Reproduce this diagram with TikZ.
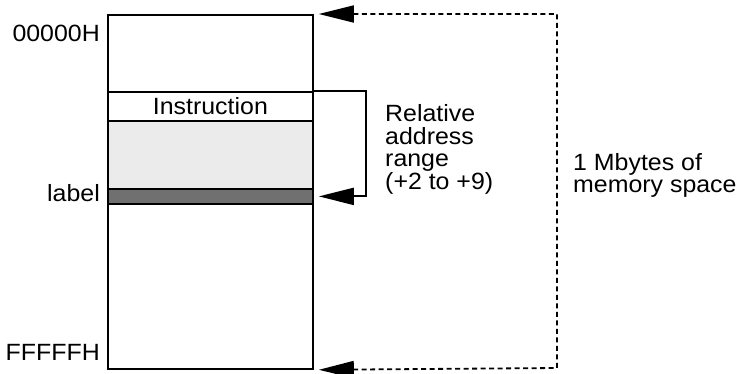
\documentclass[tikz,border=0pt]{standalone}
\usepackage{fontspec}
\setmainfont{Liberation Sans}[FakeStretch=1.06]
\usetikzlibrary{arrows.meta}
\tikzset{bigtip/.tip={Triangle[length=35pt,width=17pt]}}
\begin{document}
\begin{tikzpicture}[x=1pt,y=-1pt,
  every node/.style={inner sep=0pt, font=\fontsize{23.5}{22.6}\selectfont},
  band/.style={draw, line width=1.8pt, minimum width=205pt, anchor=north west},
  dashline/.style={line width=1.8pt, dash pattern=on 5pt off 3.5pt},
  solidline/.style={line width=1.8pt}]
\useasboundingbox (0,0) rectangle (752,374);
\node[band, fill=white, minimum height=354pt] (mem) at (107,14) {};
\node[band, fill=white, minimum height=29pt] (instr) at (107,91) {Instruction};
\node[band, fill=black!8, minimum height=68pt] (range) at (107,120) {};
\node[band, fill=black!56, minimum height=15pt] (lab) at (107,188) {};
\node[anchor=base east] (top) at (100,42) {00000H};
\node[anchor=base east] (lbl) at (100,201.5) {label};
\node[anchor=base east] (bot) at (100,360) {FFFFFH};
\node[anchor=north west, align=left] (rel) at (385,104.5) {Relative\\address\\range\\(+2 to +9)};
\node[anchor=north west, align=left] (mb) at (573,153) {1 Mbytes of\\memory space};
\coordinate (br) at (366,91);
\coordinate (dtop) at (557,14);
\coordinate (dbot) at (557,368);
\draw[solidline, -{bigtip}] (instr.north east) -- (br) |- ([xshift=5pt]lab.east);
\draw[dashline, {bigtip}-{bigtip}] ([xshift=5pt]mem.north east) -- (dtop) -- (dbot) -- ([xshift=5pt]mem.south east);
\end{tikzpicture}
\end{document}
